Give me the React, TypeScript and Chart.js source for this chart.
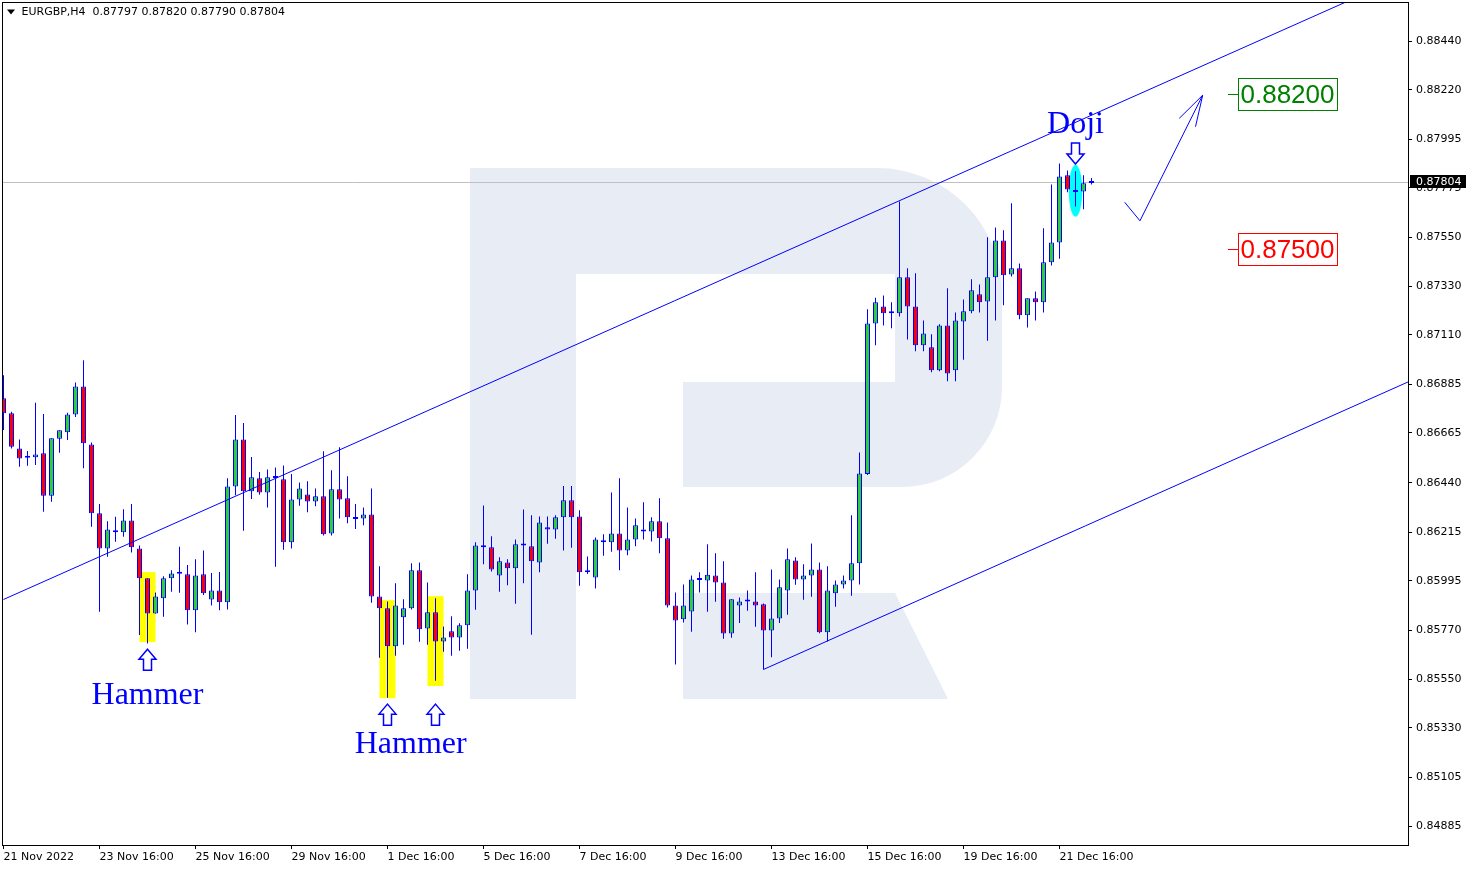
import React, { useEffect, useRef } from 'react';
import { Chart, registerables } from 'chart.js';

Chart.register(...registerables);

const SYMBOL = 'EURGBP,H4';

const OPEN = [
  0.86822, 0.86754, 0.86595, 0.86553, 0.86555, 0.86573, 0.86381, 0.86639, 0.86668, 0.86749,
  0.86876, 0.86613, 0.86301, 0.86142, 0.86216, 0.86215, 0.86269, 0.86142, 0.86007, 0.85848,
  0.85916, 0.86007, 0.86027, 0.86025, 0.85862, 0.86025, 0.85911, 0.85952, 0.85898, 0.86423,
  0.86636, 0.86401, 0.86460, 0.86396, 0.86461, 0.86455, 0.86170, 0.86364, 0.86387, 0.86355,
  0.86378, 0.86210, 0.86410, 0.86369, 0.86275, 0.86278, 0.86296, 0.85925, 0.85871, 0.85699,
  0.85830, 0.85871, 0.86043, 0.85780, 0.85853, 0.85721, 0.85767, 0.85739, 0.85794, 0.85952,
  0.86148, 0.86147, 0.86020, 0.86079, 0.86052, 0.86165, 0.86152, 0.86079, 0.86238, 0.86228,
  0.86283, 0.86360, 0.86287, 0.86034, 0.86011, 0.86179, 0.86170, 0.86210, 0.86133, 0.86183,
  0.86228, 0.86219, 0.86265, 0.86188, 0.85884, 0.85821, 0.85857, 0.85999, 0.85997, 0.86020,
  0.85988, 0.85757, 0.85884, 0.85902, 0.85902, 0.85889, 0.85771, 0.85825, 0.85952, 0.86088,
  0.86002, 0.86020, 0.86047, 0.85762, 0.85939, 0.85979, 0.85997, 0.86075, 0.86479, 0.87161,
  0.87238, 0.87207, 0.87207, 0.87370, 0.87238, 0.87062, 0.87053, 0.86949, 0.87152, 0.86949,
  0.87170, 0.87216, 0.87293, 0.87261, 0.87370, 0.87537, 0.87383, 0.87411, 0.87198, 0.87275,
  0.87257, 0.87438, 0.87528, 0.87832, 0.87757, 0.87759, 0.87797,
];

const HIGH = [
  0.86927, 0.86761, 0.86636, 0.86583, 0.86802, 0.86751, 0.86641, 0.86677, 0.86757, 0.86894,
  0.86995, 0.86622, 0.86343, 0.86265, 0.86286, 0.86320, 0.86343, 0.86156, 0.86007, 0.85943,
  0.86016, 0.86043, 0.86150, 0.86067, 0.86093, 0.86133, 0.86031, 0.86035, 0.86460, 0.86746,
  0.86710, 0.86556, 0.86488, 0.86500, 0.86509, 0.86518, 0.86479, 0.86441, 0.86447, 0.86414,
  0.86582, 0.86496, 0.86600, 0.86469, 0.86343, 0.86328, 0.86414, 0.86061, 0.85902, 0.85984,
  0.85912, 0.86075, 0.86079, 0.85988, 0.85916, 0.85789, 0.85835, 0.85803, 0.86025, 0.86170,
  0.86337, 0.86197, 0.86102, 0.86093, 0.86183, 0.86319, 0.86293, 0.86287, 0.86287, 0.86292,
  0.86425, 0.86425, 0.86315, 0.86106, 0.86192, 0.86206, 0.86396, 0.86460, 0.86328, 0.86278,
  0.86351, 0.86283, 0.86369, 0.86260, 0.85943, 0.85979, 0.86020, 0.86034, 0.86161, 0.86120,
  0.86084, 0.85912, 0.85920, 0.85952, 0.86034, 0.85893, 0.86047, 0.86002, 0.86142, 0.86102,
  0.86070, 0.86165, 0.86079, 0.86061, 0.85997, 0.86020, 0.86292, 0.86577, 0.87225, 0.87277,
  0.87288, 0.87257, 0.87714, 0.87411, 0.87388, 0.87175, 0.87112, 0.87157, 0.87320, 0.87211,
  0.87270, 0.87361, 0.87338, 0.87551, 0.87596, 0.87583, 0.87705, 0.87433, 0.87275, 0.87306,
  0.87592, 0.87791, 0.87886, 0.87854, 0.87850, 0.87832, 0.87820,
];

const LOW = [
  0.86678, 0.86595, 0.86512, 0.86517, 0.86520, 0.86308, 0.86354, 0.86575, 0.86633, 0.86738,
  0.86505, 0.86240, 0.85855, 0.86104, 0.86172, 0.86195, 0.86124, 0.85750, 0.85712, 0.85848,
  0.85833, 0.85946, 0.85941, 0.85798, 0.85762, 0.85931, 0.85884, 0.85862, 0.85866, 0.86383,
  0.86222, 0.86366, 0.86385, 0.86328, 0.86059, 0.86136, 0.86142, 0.86335, 0.86306, 0.86333,
  0.86201, 0.86201, 0.86278, 0.86256, 0.86230, 0.86247, 0.85896, 0.85647, 0.85466, 0.85656,
  0.85706, 0.85866, 0.85719, 0.85706, 0.85543, 0.85674, 0.85656, 0.85679, 0.85688, 0.85864,
  0.86070, 0.86038, 0.85946, 0.85975, 0.85892, 0.85984, 0.85751, 0.86034, 0.86163, 0.86186,
  0.86133, 0.86145, 0.85973, 0.86026, 0.85961, 0.86109, 0.86127, 0.86043, 0.86111, 0.86152,
  0.86183, 0.86174, 0.86120, 0.85875, 0.85617, 0.85807, 0.85765, 0.85943, 0.85855, 0.85901,
  0.85733, 0.85738, 0.85805, 0.85860, 0.85787, 0.85594, 0.85649, 0.85805, 0.85842, 0.85978,
  0.85910, 0.85923, 0.85758, 0.85721, 0.85878, 0.85961, 0.85928, 0.85979, 0.86475, 0.87062,
  0.87152, 0.87139, 0.87193, 0.87089, 0.87035, 0.87035, 0.86940, 0.86945, 0.86899, 0.86899,
  0.86997, 0.87207, 0.87211, 0.87083, 0.87175, 0.87243, 0.87374, 0.87180, 0.87143, 0.87175,
  0.87211, 0.87424, 0.87454, 0.87755, 0.87691, 0.87678, 0.87790,
];

const CLOSE = [
  0.86754, 0.86603, 0.86550, 0.86553, 0.86568, 0.86381, 0.86641, 0.86677, 0.86749, 0.86876,
  0.86618, 0.86301, 0.86142, 0.86228, 0.86216, 0.86269, 0.86147, 0.86007, 0.85848, 0.85925,
  0.86007, 0.86029, 0.86027, 0.85862, 0.86020, 0.85939, 0.85952, 0.85898, 0.86423, 0.86636,
  0.86401, 0.86464, 0.86396, 0.86464, 0.86461, 0.86170, 0.86364, 0.86414, 0.86355, 0.86378,
  0.86206, 0.86410, 0.86364, 0.86283, 0.86275, 0.86296, 0.85925, 0.85871, 0.85699, 0.85884,
  0.85871, 0.86043, 0.85776, 0.85853, 0.85721, 0.85739, 0.85739, 0.85794, 0.85952, 0.86156,
  0.86148, 0.86047, 0.86084, 0.86052, 0.86161, 0.86156, 0.86084, 0.86260, 0.86228, 0.86283,
  0.86360, 0.86283, 0.86034, 0.86034, 0.86183, 0.86170, 0.86210, 0.86133, 0.86183, 0.86247,
  0.86219, 0.86265, 0.86188, 0.85884, 0.85816, 0.85884, 0.86002, 0.85999, 0.86023, 0.85988,
  0.85757, 0.85912, 0.85902, 0.85902, 0.85884, 0.85771, 0.85825, 0.85966, 0.86093, 0.86002,
  0.86020, 0.86047, 0.85762, 0.85952, 0.85979, 0.85997, 0.86075, 0.86482, 0.87161, 0.87257,
  0.87207, 0.87207, 0.87370, 0.87238, 0.87062, 0.87116, 0.86949, 0.87152, 0.86935, 0.87175,
  0.87216, 0.87311, 0.87257, 0.87370, 0.87537, 0.87379, 0.87411, 0.87198, 0.87275, 0.87257,
  0.87438, 0.87528, 0.87827, 0.87768, 0.87757, 0.87796, 0.87804,
];

const X_TICK_INDEX = [0, 12, 24, 36, 48, 60, 72, 84, 96, 108, 120, 132];
const X_TICK_LABELS = [
  '21 Nov 2022', '23 Nov 16:00', '25 Nov 16:00', '29 Nov 16:00', '1 Dec 16:00', '5 Dec 16:00',
  '7 Dec 16:00', '9 Dec 16:00', '13 Dec 16:00', '15 Dec 16:00', '19 Dec 16:00', '21 Dec 16:00',
];
const Y_TICKS = [
  0.8844, 0.8822, 0.87995, 0.87775, 0.8755, 0.8733, 0.8711, 0.86885, 0.86665, 0.8644,
  0.86215, 0.85995, 0.8577, 0.8555, 0.8533, 0.85105, 0.84885,
];
const X_MIN = -0.1875;
const X_MAX = 175.5625;
const Y_MIN = 0.84799;
const Y_MAX = 0.88617;

// Channel lines and forecast path (bar index, price)
const UPPER_CHANNEL = [{ x: 0, y: 0.85911 }, { x: 167.8, y: 0.88617 }];
const LOWER_CHANNEL = [{ x: 95, y: 0.85594 }, { x: 175.56, y: 0.86896 }];
const FORECAST_PATH = [{ x: 140.15, y: 0.8771 }, { x: 142.06, y: 0.87626 }, { x: 149.9, y: 0.88195 }];
const FORECAST_BARB_A = [{ x: 146.97, y: 0.8809 }, { x: 149.9, y: 0.88195 }];
const FORECAST_BARB_B = [{ x: 149.0, y: 0.88052 }, { x: 149.9, y: 0.88195 }];

// Pattern highlights
const HIGHLIGHT_FROM = [17, 47, 53];
const HIGHLIGHT_TO = [19, 49, 55];
const HIGHLIGHT_TOP = [0.86035, 0.85908, 0.85926];
const HIGHLIGHT_BOTTOM = [0.85718, 0.85464, 0.85519];
const DOJI_INDEX = 134;
const DOJI_TOP = 0.8788;
const DOJI_BOTTOM = 0.87644;

const LABEL_TEXTS = ['Hammer', 'Hammer', 'Doji'];
const LABEL_INDEX = [18, 50.9, 134];
const LABEL_BASELINE = [0.85437, 0.85217, 0.88022];
const UP_ARROW_INDEX = [18, 48, 54];
const UP_ARROW_TIP = [0.85686, 0.85437, 0.85437];
const DOWN_ARROW_INDEX = [134];
const DOWN_ARROW_TIP = [0.87883];

const TARGET_PRICES = [0.882, 0.875];
const TARGET_COLORS = ['#008000', '#ff0000'];
const TARGET_DASH_FROM = 153.1;
const TARGET_BOX_FROM = 154.35;
const TARGET_BOX_TO = 166.73;

const BLUE = '#0000ff';
const GREEN = '#32cd32';
const RED = '#ff0000';
const SMALL_FONT = '11px "DejaVu Sans"';

const fmt = (v: number) => v.toFixed(5);

const belowPlugin = {
  id: 'belowDecor',
  beforeDatasetsDraw(chart: any) {
    const { ctx, chartArea: a } = chart;
    const X = (v: number) => chart.scales.x.getPixelForValue(v);
    const Y = (v: number) => chart.scales.y.getPixelForValue(v);
    ctx.save();
    ctx.beginPath();
    ctx.rect(a.left, a.top, a.right - a.left, a.bottom - a.top);
    ctx.clip();

    // watermark logo
    ctx.fillStyle = '#e8ecf4';
    ctx.fillRect(470, 168, 106, 531);
    ctx.beginPath();
    ctx.moveTo(576, 168);
    ctx.arcTo(1002, 168, 1002, 487, 125);
    ctx.arcTo(1002, 487, 683, 487, 100);
    ctx.lineTo(683, 487);
    ctx.lineTo(683, 382);
    ctx.lineTo(895, 382);
    ctx.lineTo(895, 274);
    ctx.lineTo(576, 274);
    ctx.closePath();
    ctx.fill();
    ctx.beginPath();
    ctx.moveTo(683, 593);
    ctx.lineTo(895, 593);
    ctx.lineTo(948, 699);
    ctx.lineTo(683, 699);
    ctx.closePath();
    ctx.fill();

    // bid line
    const last = CLOSE.length - 1;
    const py = Math.round(Y(CLOSE[last])) + 0.5;
    ctx.strokeStyle = '#c0c0c0';
    ctx.lineWidth = 1;
    ctx.beginPath();
    ctx.moveTo(a.left, py);
    ctx.lineTo(a.right, py);
    ctx.stroke();

    // yellow highlight boxes
    ctx.fillStyle = '#ffff00';
    for (let k = 0; k < HIGHLIGHT_FROM.length; k++) {
      const x0 = X(HIGHLIGHT_FROM[k]);
      const x1 = X(HIGHLIGHT_TO[k]);
      const y0 = Y(HIGHLIGHT_TOP[k]);
      const y1 = Y(HIGHLIGHT_BOTTOM[k]);
      ctx.fillRect(x0, y0, x1 - x0, y1 - y0);
    }

    // doji ellipse
    const cx = X(DOJI_INDEX);
    const yt = Y(DOJI_TOP);
    const yb = Y(DOJI_BOTTOM);
    ctx.fillStyle = '#00ffff';
    ctx.beginPath();
    ctx.ellipse(cx, (yt + yb) / 2, X(DOJI_INDEX + 0.84) - cx, (yb - yt) / 2, 0, 0, Math.PI * 2);
    ctx.fill();
    ctx.restore();
  },
};

function outlineArrow(ctx: any, cx: number, tip: number, dir: number) {
  // dir = 1 : pointing up (tip at top); dir = -1 : pointing down (tip at bottom)
  const hh = 10, total = 21, hw = 8.5, sw = 4;
  ctx.beginPath();
  ctx.moveTo(cx, tip);
  ctx.lineTo(cx + hw, tip + dir * hh);
  ctx.lineTo(cx + sw, tip + dir * hh);
  ctx.lineTo(cx + sw, tip + dir * total);
  ctx.lineTo(cx - sw, tip + dir * total);
  ctx.lineTo(cx - sw, tip + dir * hh);
  ctx.lineTo(cx - hw, tip + dir * hh);
  ctx.closePath();
  ctx.fillStyle = '#ffffff';
  ctx.fill();
  ctx.strokeStyle = BLUE;
  ctx.lineWidth = 1.5;
  ctx.stroke();
}

const abovePlugin = {
  id: 'aboveDecor',
  afterDraw(chart: any) {
    const { ctx, chartArea: a } = chart;
    const X = (v: number) => chart.scales.x.getPixelForValue(v);
    const Y = (v: number) => chart.scales.y.getPixelForValue(v);
    ctx.save();

    // frame
    ctx.strokeStyle = '#000000';
    ctx.lineWidth = 1;
    ctx.strokeRect(a.left + 0.5, a.top + 0.5, a.right - a.left, a.bottom - a.top);

    // title
    const last = CLOSE.length - 1;
    ctx.fillStyle = '#000000';
    ctx.beginPath();
    ctx.moveTo(7, 9.5);
    ctx.lineTo(15, 9.5);
    ctx.lineTo(11, 14.5);
    ctx.closePath();
    ctx.fill();
    ctx.font = SMALL_FONT;
    ctx.textAlign = 'left';
    ctx.textBaseline = 'middle';
    ctx.fillText(
      `${SYMBOL}  ${fmt(OPEN[last])} ${fmt(HIGH[last])} ${fmt(LOW[last])} ${fmt(CLOSE[last])}`,
      21.5,
      12.5
    );

    // pattern labels
    ctx.fillStyle = BLUE;
    ctx.font = '32px "Liberation Serif"';
    ctx.textAlign = 'center';
    ctx.textBaseline = 'alphabetic';
    for (let k = 0; k < LABEL_TEXTS.length; k++) {
      ctx.fillText(LABEL_TEXTS[k], X(LABEL_INDEX[k]), Y(LABEL_BASELINE[k]));
    }
    for (let k = 0; k < UP_ARROW_INDEX.length; k++) {
      outlineArrow(ctx, X(UP_ARROW_INDEX[k]), Y(UP_ARROW_TIP[k]), 1);
    }
    for (let k = 0; k < DOWN_ARROW_INDEX.length; k++) {
      outlineArrow(ctx, X(DOWN_ARROW_INDEX[k]), Y(DOWN_ARROW_TIP[k]), -1);
    }

    // target levels
    for (let k = 0; k < TARGET_PRICES.length; k++) {
      const yc = Math.round(Y(TARGET_PRICES[k]));
      const xd = Math.round(X(TARGET_DASH_FROM));
      const x0 = Math.round(X(TARGET_BOX_FROM));
      const x1 = Math.round(X(TARGET_BOX_TO));
      ctx.strokeStyle = TARGET_COLORS[k];
      ctx.lineWidth = 1;
      ctx.beginPath();
      ctx.moveTo(xd, yc + 0.5);
      ctx.lineTo(x0, yc + 0.5);
      ctx.stroke();
      ctx.fillStyle = '#ffffff';
      ctx.fillRect(x0, yc - 16, x1 - x0, 32);
      ctx.strokeRect(x0 + 0.5, yc - 15.5, x1 - x0, 32);
      ctx.fillStyle = TARGET_COLORS[k];
      ctx.font = '26px "Liberation Sans"';
      ctx.textAlign = 'left';
      ctx.textBaseline = 'middle';
      ctx.fillText(fmt(TARGET_PRICES[k]), x0 + 2.5, yc + 1.5);
    }

    // current price label
    const py = Math.round(Y(CLOSE[last]));
    ctx.fillStyle = '#000000';
    ctx.fillRect(a.right + 2, py - 7, 56, 13);
    ctx.fillStyle = '#ffffff';
    ctx.font = SMALL_FONT;
    ctx.textAlign = 'left';
    ctx.textBaseline = 'middle';
    ctx.fillText(fmt(CLOSE[last]), a.right + 8, py);
    ctx.restore();
  },
};

export default function App() {
  const ref = useRef<HTMLCanvasElement | null>(null);

  useEffect(() => {
    document.body.style.margin = '0';
    const canvas = ref.current;
    if (!canvas) return;
    const idx = OPEN.map((_, i) => i);
    const bodies = idx.map((i) => ({ x: i, y: [OPEN[i], CLOSE[i]] }));
    const wicks = idx.map((i) => ({ x: i, y: [LOW[i], HIGH[i]] }));
    const bodyColors = idx.map((i) => (CLOSE[i] >= OPEN[i] ? GREEN : RED));
    const lineStyle = {
      type: 'line' as const,
      borderColor: BLUE,
      borderWidth: 1,
      pointRadius: 0,
      fill: false,
      tension: 0,
      order: 0,
    };

    const chart = new Chart(canvas, {
      type: 'bar',
      data: {
        datasets: [
          { ...lineStyle, data: UPPER_CHANNEL },
          { ...lineStyle, data: LOWER_CHANNEL },
          { ...lineStyle, data: FORECAST_PATH },
          { ...lineStyle, data: FORECAST_BARB_A },
          { ...lineStyle, data: FORECAST_BARB_B },
          {
            type: 'bar',
            data: bodies,
            backgroundColor: bodyColors,
            borderColor: BLUE,
            borderWidth: 1,
            borderSkipped: false,
            barThickness: 5,
            grouped: false,
            minBarLength: 2,
            inflateAmount: 0,
            order: 1,
          },
          {
            type: 'bar',
            data: wicks,
            backgroundColor: BLUE,
            borderWidth: 0,
            barThickness: 1,
            grouped: false,
            inflateAmount: 0,
            order: 2,
          },
        ] as any,
      },
      options: {
        responsive: false,
        animation: false,
        events: [],
        layout: { padding: { left: 2, top: 2, right: 0, bottom: 0 } },
        plugins: { legend: { display: false }, tooltip: { enabled: false } },
        scales: {
          x: {
            type: 'linear',
            position: 'bottom',
            min: X_MIN,
            max: X_MAX,
            offset: false,
            grid: { drawOnChartArea: false, drawTicks: true, tickLength: 4, color: '#000000', offset: false },
            border: { display: false },
            ticks: {
              autoSkip: false,
              maxRotation: 0,
              minRotation: 0,
              align: 'start',
              padding: 2,
              color: '#000000',
              font: { family: 'DejaVu Sans', size: 11 },
              callback: (v: any) => {
                const k = X_TICK_INDEX.indexOf(Number(v));
                return k >= 0 ? X_TICK_LABELS[k] : '';
              },
            },
            afterBuildTicks: (s: any) => {
              s.ticks = X_TICK_INDEX.map((v) => ({ value: v }));
            },
            afterFit: (s: any) => {
              s.height = 24;
              s.paddingLeft = 0;
              s.paddingRight = 0;
            },
          },
          y: {
            type: 'linear',
            position: 'right',
            min: Y_MIN,
            max: Y_MAX,
            grid: { drawOnChartArea: false, drawTicks: true, tickLength: 4, color: '#000000' },
            border: { display: false },
            ticks: {
              autoSkip: false,
              padding: 4,
              color: '#000000',
              font: { family: 'DejaVu Sans', size: 11 },
              callback: (v: any) => Number(v).toFixed(5),
            },
            afterBuildTicks: (s: any) => {
              s.ticks = Y_TICKS.map((v) => ({ value: v }));
            },
            afterFit: (s: any) => {
              s.width = 64;
              s.paddingTop = 0;
              s.paddingBottom = 0;
            },
          },
        },
      } as any,
      plugins: [belowPlugin, abovePlugin],
    });
    return () => chart.destroy();
  }, []);

  return (
    <div style={{ width: 1472, height: 869, background: '#ffffff' }}>
      <canvas ref={ref} width={1472} height={869} style={{ display: 'block' }} />
    </div>
  );
}
